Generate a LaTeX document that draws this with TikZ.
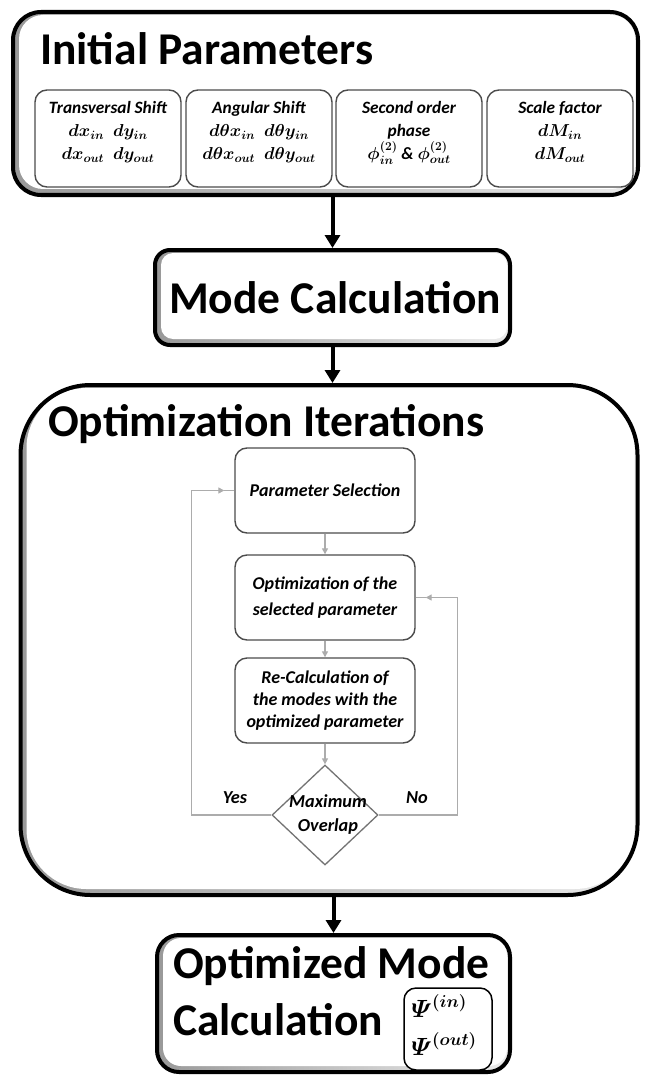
\documentclass[tikz,border=0pt]{standalone}
\usepackage[no-math]{fontspec}
\setmainfont{Carlito}
\usepackage{amsmath}
\usetikzlibrary{arrows.meta,shapes.geometric,calc}

% larger size for the formulas inside the parameter boxes
\newcommand{\bigmath}[1]{{\fontsize{18.5}{23}\selectfont$#1$}}

\tikzset{
  % thick framed block with a soft grey bevel inside its left and lower edges
  bigbox/.style={draw=black, line width=4pt, fill=white, inner sep=0pt,
    path picture={
      \fill[left color=gray!80, right color=gray!15]
        (path picture bounding box.south west) rectangle (path picture bounding box.north east);
      \fill[white, rounded corners=#1]
        ($(path picture bounding box.south west)+(6,-6)$) rectangle
        ($(path picture bounding box.north east)+(-3,3)$);
    }},
  title/.style={font=\fontsize{45.5}{50}\selectfont\bfseries, inner sep=0pt},
  subbox/.style={draw=black!70, line width=1.4pt, fill=white, rounded corners=12pt,
    minimum width=146pt, minimum height=97pt, inner sep=0pt},
  subtext/.style={font=\fontsize{17.3}{23}\selectfont\bfseries\itshape\boldmath,
    align=center, inner sep=0pt, anchor=north},
  flowbox/.style={draw=black!70, line width=1.4pt, fill=white, rounded corners=12pt,
    minimum width=180pt, minimum height=85pt, inner sep=0pt,
    font=\fontsize{18}{22}\selectfont\bfseries\itshape, align=center},
  decision/.style={diamond, draw=black!55, line width=1.3pt, fill=white,
    minimum width=106pt, minimum height=100pt, inner sep=0pt},
  label/.style={font=\fontsize{18.3}{24}\selectfont\bfseries\itshape, align=center, inner sep=0pt},
  bigarrow/.style={draw=black, line width=4pt, -{Triangle[length=13pt,width=15pt]}},
  greyarrow/.style={draw=gray!65, line width=1.3pt, -{Triangle[length=6pt,width=6pt]}},
  greyline/.style={draw=gray!65, line width=1.3pt},
}

\begin{document}
\begin{tikzpicture}[x=1pt, y=-1pt]
\useasboundingbox (0,0) rectangle (645,1078);

% ---------- Initial parameters ----------
\node[bigbox=24pt, rounded corners=28pt, minimum width=625pt, minimum height=183pt] (A) at (325.5,103.5) {};
\node[title, anchor=base west] (tA) at (40,65) {Initial Parameters};

\node[subbox] (S1) at (108,138.5) {};
\node[subbox] (S2) at (259,138.5) {};
\node[subbox] (S3) at (409,138.5) {};
\node[subbox] (S4) at (560,138.5) {};

\node[subtext] (S1t) at ([yshift=-12pt]S1.north) {Transversal Shift\\ \bigmath{dx_{in}\;\,dy_{in}}\\ \bigmath{dx_{out}\;\,dy_{out}}};
\node[subtext] (S2t) at ([yshift=-12pt]S2.north) {Angular Shift\\ \bigmath{d\theta x_{in}\;\,d\theta y_{in}}\\ \bigmath{d\theta x_{out}\;\,d\theta y_{out}}};
\node[subtext] (S3t) at ([yshift=-12pt]S3.north) {Second order\\ phase\\ \bigmath{\phi^{(2)}_{in}} \& \bigmath{\phi^{(2)}_{out}}};
\node[subtext] (S4t) at ([yshift=-12pt]S4.north) {Scale factor\\ \bigmath{dM_{in}}\\ \bigmath{dM_{out}}};

% ---------- Mode calculation ----------
\node[bigbox=12pt, rounded corners=15pt, minimum width=355pt, minimum height=95pt] (B) at (332.5,297.5) {};
\node[title, anchor=base] (tB) at (335,313) {Mode Calculation};

% ---------- Optimization iterations ----------
\node[bigbox=60pt, rounded corners=70pt, minimum width=617pt, minimum height=510pt] (C) at (329,640) {};
\node[title, anchor=base west] (tC) at (48,436) {Optimization Iterations};

\node[flowbox] (P1) at (325,490.5) {Parameter Selection};
\node[flowbox] (P2) at (325,597.5) {Optimization of the\\[4pt] selected parameter};
\node[flowbox] (P3) at (325,700.5) {Re-Calculation of\\ the modes with the\\ optimized parameter};
\node[decision] (Dm) at (325,815) {};
\node[label] (Dt) at (328,815) {Maximum\\Overlap};
\node[label] (yes) at (235,798) {Yes};
\node[label] (no) at (417,798) {No};

\draw[greyarrow] (P1) -- (P2);
\draw[greyarrow] (P2) -- (P3);
\draw[greyarrow] (P3) -- (Dm);
\coordinate (yesEnd) at ([xshift=-10pt]P1.west);
\coordinate (noEnd) at ([xshift=10pt]P2.east);
\draw[greyarrow] (Dm.west) -| ([xshift=-43pt]P1.west) -- (yesEnd);
\draw[greyline] (yesEnd) -- (P1.west);
\draw[greyarrow] (Dm.east) -| ([xshift=42pt]P2.east) -- (noEnd);
\draw[greyline] (noEnd) -- (P2.east);

% ---------- Optimized mode calculation ----------
\node[bigbox=18pt, rounded corners=22pt, minimum width=353pt, minimum height=137pt] (D) at (333.5,1003.5) {};
\node[title, anchor=base west] (tD1) at (173,978) {Optimized Mode};
\node[title, anchor=base west] (tD2) at (173,1035) {Calculation};
\node[draw=black, line width=1.5pt, rounded corners=12pt, fill=white,
      minimum width=88pt, minimum height=82pt, inner sep=0pt] (Pb) at (448,1029) {};
\node[font=\fontsize{24}{38}\selectfont\boldmath, align=left, inner sep=0pt, anchor=west]
  (Pt) at ([xshift=8pt,yshift=4pt]Pb.west) {$\mathnormal{\Psi}^{(in)}$\\ $\mathnormal{\Psi}^{(out)}$};

% ---------- main flow ----------
\draw[bigarrow] (B.north |- A.south) -- (B.north);
\draw[bigarrow] (B.south) -- (B.south |- C.north);
\draw[bigarrow] (D.north |- C.south) -- (D.north);
\end{tikzpicture}
\end{document}
